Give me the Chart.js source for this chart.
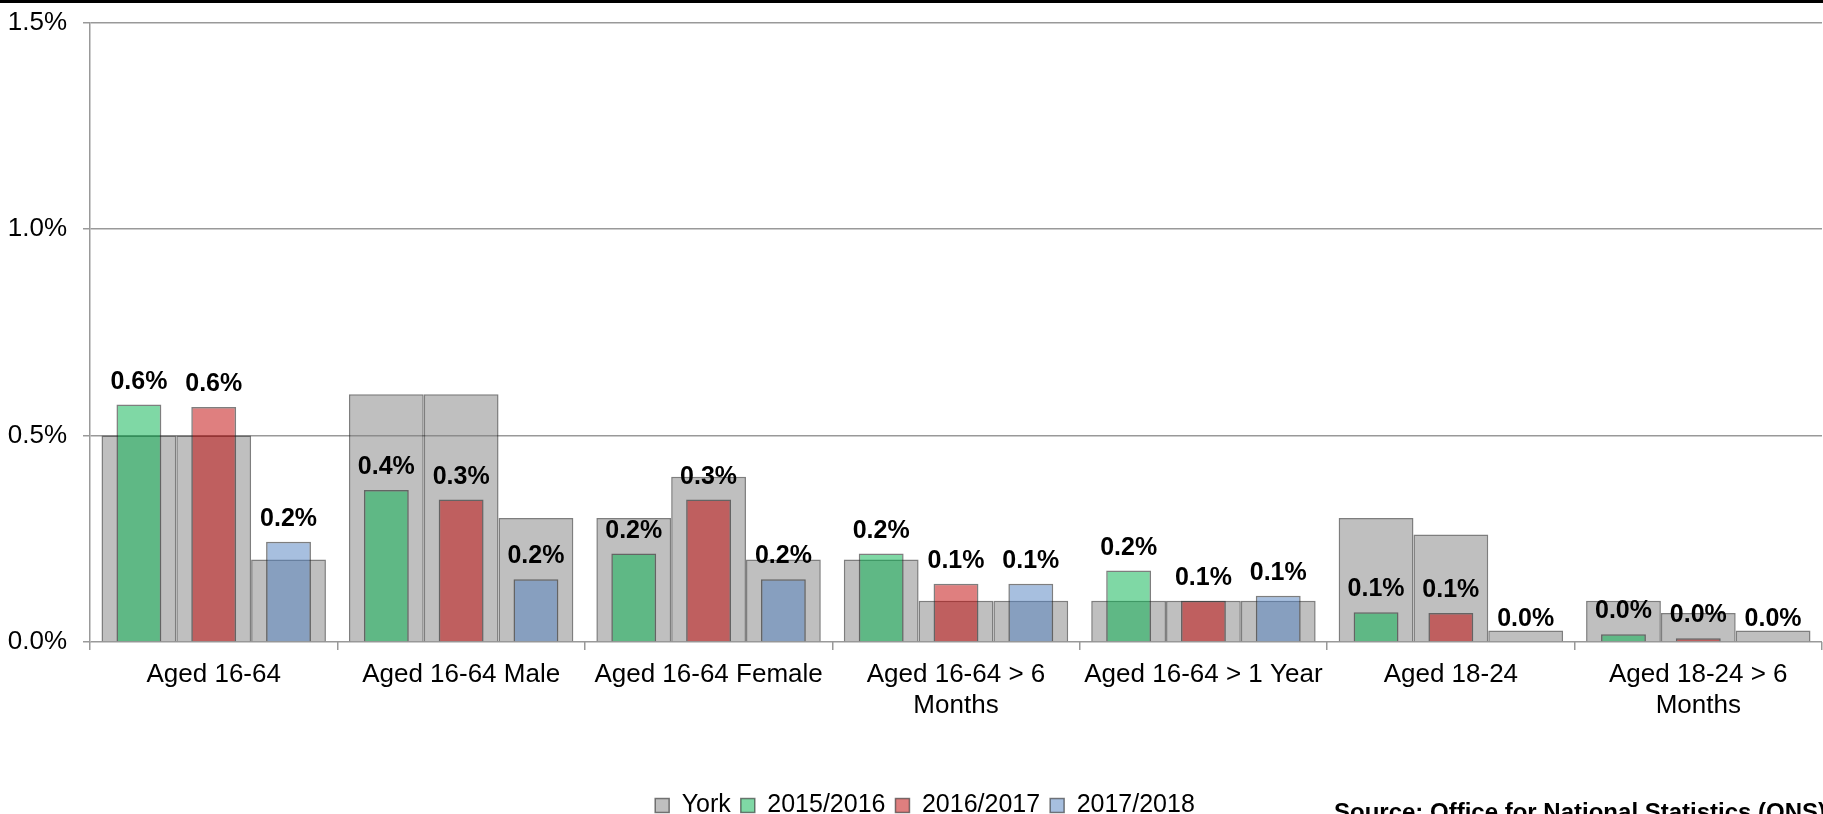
<!DOCTYPE html>
<html>
<head>
<meta charset="utf-8">
<script src="https://cdn.jsdelivr.net/npm/chart.js@4.4.1/dist/chart.umd.min.js"></script>
<style>
  html, body { margin: 0; padding: 0; background: #fff; overflow: hidden; }
  #wrap { position: relative; width: 1823px; height: 840px; }
  #topbar { position: absolute; left: 0; top: 0; width: 1823px; height: 3px; background: #000; }
  #source { position: absolute; left: 1334px; top: 798px; font: bold 24px "Liberation Sans", Arial, sans-serif; color: #000; white-space: nowrap; }
</style>
</head>
<body>
<div id="wrap">
  <canvas id="chart"></canvas>
  <div id="topbar"></div>
  <div id="source">Source: Office for National Statistics (ONS)</div>
</div>
<script>
  const categories = [
    "Aged 16-64", "Aged 16-64 Male", "Aged 16-64 Female", ["Aged 16-64 > 6", "Months"],
    "Aged 16-64 > 1 Year", "Aged 18-24", ["Aged 18-24 > 6", "Months"]
  ];
  // York comparison values, one per year slot
  const york1516 = [0.5, 0.6, 0.3, 0.2, 0.1, 0.3, 0.1];
  const york1617 = [0.5, 0.6, 0.4, 0.1, 0.1, 0.26, 0.07];
  const york1718 = [0.2, 0.3, 0.2, 0.1, 0.1, 0.028, 0.028];
  const y1516 = [0.575, 0.368, 0.214, 0.214, 0.173, 0.072, 0.019];
  const y1617 = [0.569, 0.345, 0.345, 0.141, 0.1, 0.07, 0.009];
  const y1718 = [0.243, 0.152, 0.152, 0.141, 0.112, 0, 0];
  const yTicks = [0, 0.5, 1.0, 1.5];

  const FONT = '"Liberation Sans", Arial, sans-serif';
  const york = "rgba(128,128,128,0.5)";
  const edge = "rgba(40,40,40,0.6)";

  function yorkSet(label, data, stack) {
    return { label: label, data: data, stack: stack, order: 1, backgroundColor: york,
      borderColor: edge, borderWidth: 1.5, barPercentage: 1, categoryPercentage: 0.907 };
  }
  function yearSet(label, data, stack, color) {
    return { label: label, data: data, stack: stack, order: 0, backgroundColor: color,
      borderColor: edge, borderWidth: 1.5, barPercentage: 0.6, categoryPercentage: 0.907 };
  }

  // value labels above the coloured bars
  const barLabels = {
    id: "barLabels",
    afterLayout(chart) {
      // legend sits a little right of centre in the original
      chart.legend.left += 14;
      chart.legend.right += 14;
    },
    afterDatasetsDraw(chart) {
      const ctx = chart.ctx;
      ctx.save();
      ctx.font = "bold 25px " + FONT;
      ctx.fillStyle = "#000";
      ctx.textAlign = "center";
      ctx.textBaseline = "alphabetic";
      chart.data.datasets.forEach((ds, i) => {
        if (ds.order !== 0) return;
        chart.getDatasetMeta(i).data.forEach((bar, j) => {
          ctx.fillText(ds.data[j].toFixed(1) + "%", bar.x, bar.y - 16);
        });
      });
      ctx.restore();
    }
  };

  new Chart(document.getElementById("chart"), {
    type: "bar",
    data: {
      labels: categories,
      datasets: [
        yorkSet("York", york1516, "s1"),
        yorkSet("York", york1617, "s2"),
        yorkSet("York", york1718, "s3"),
        yearSet("2015/2016", y1516, "s1", "rgba(0,177,75,0.5)"),
        yearSet("2016/2017", y1617, "s2", "rgba(192,0,0,0.5)"),
        yearSet("2017/2018", y1718, "s3", "rgba(80,128,192,0.5)")
      ]
    },
    options: {
      responsive: true,
      maintainAspectRatio: false,
      animation: false,
      layout: { padding: { top: 22, right: 1, left: 0, bottom: 12 } },
      plugins: {
        tooltip: { enabled: false },
        legend: {
          position: "bottom",
          labels: {
            font: { family: FONT, size: 25 },
            color: "#000",
            boxWidth: 14,
            boxHeight: 14,
            padding: 10,
            filter: (item) => item.datasetIndex !== 1 && item.datasetIndex !== 2,
            sort: (a, b) => a.datasetIndex - b.datasetIndex
          }
        }
      },
      scales: {
        x: {
          grid: {
            offset: true,
            drawOnChartArea: true,
            color: (c) => (c.index === categories.length ? "#999" : "rgba(0,0,0,0)"),
            tickColor: "#999",
            tickLength: 8,
            lineWidth: 1.5
          },
          border: { display: false },
          ticks: { font: { family: FONT, size: 26 }, color: "#000", padding: 9, maxRotation: 0, autoSkip: false },
          afterFit: (s) => { s.height = 141; }
        },
        y: {
          stacked: false,
          min: 0,
          max: 1.5,
          afterBuildTicks: (s) => { s.ticks = yTicks.map(v => ({ value: v })); },
          grid: { color: "#999", lineWidth: 1.5, tickLength: 7 },
          border: { color: "#999", width: 1.5 },
          ticks: {
            font: { family: FONT, size: 26, lineHeight: 0.5 },
            color: "#000",
            padding: 16,
            callback: (v) => Number(v).toFixed(1) + "%"
          },
          afterFit: (s) => { s.width = 90; }
        }
      }
    },
    plugins: [barLabels]
  });
</script>
</body>
</html>
